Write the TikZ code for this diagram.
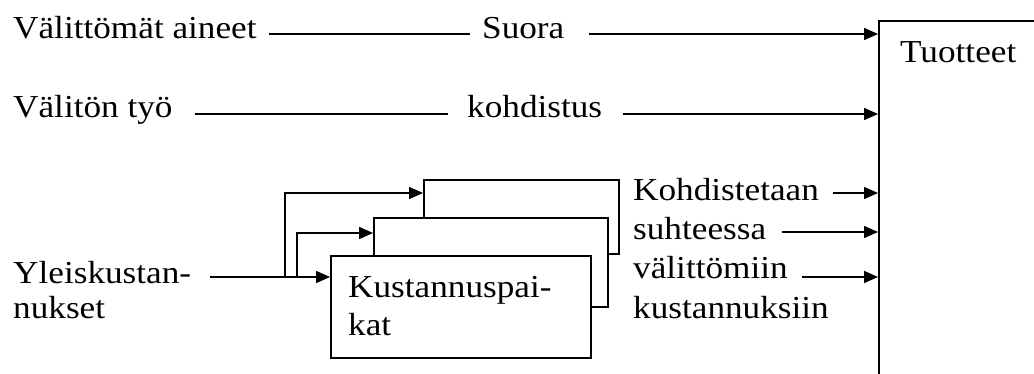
\documentclass[tikz,border=0pt]{standalone}
\usepackage{fontspec}
\setmainfont{Liberation Serif}[FakeStretch=1.10]
\usetikzlibrary{arrows.meta,calc}

\tikzset{
  lbl/.style={inner sep=0pt, anchor=base west, font=\fontsize{32}{38}\selectfont, align=left},
  conn/.style={line width=1.6pt},
  arr/.style={conn, -{Triangle[length=14pt,width=12pt]}},
  stack/.style={draw, line width=1.6pt, fill=white, anchor=north west, inner sep=0pt},
}

\begin{document}
\begin{tikzpicture}[x=1pt,y=-1pt]
  \useasboundingbox (0,0) rectangle (1034,374);

  % products box, running off the right and bottom edges
  \begin{scope}
    \clip (0,0) rectangle (1034,374);
    \node[stack, minimum width=200pt, minimum height=400pt] (tuot) at (878,20) {};
  \end{scope}
  \node[lbl] (tuottxt) at (900,63) {Tuotteet};

  % direct costs
  \node[lbl] (va) at (13,39) {Välittömät aineet};
  \node[lbl] (suora) at (482,39) {Suora};
  \draw[conn] ($(va.base east)+(12,-5)$) -- ($(suora.base west)+(-12,-5)$);
  \draw[arr] ($(suora.base east)+(24,-5)$) -- ($(suora.base east -| tuot.west)+(0,-5)$);

  \node[lbl] (vt) at (13,118) {Välitön työ};
  \node[lbl] (kohd) at (467,118) {kohdistus};
  \draw[conn] ($(vt.base east)+(22,-4)$) -- ($(kohd.base west)+(-19,-4)$);
  \draw[arr] ($(kohd.base east)+(21,-4)$) -- ($(kohd.base east -| tuot.west)+(0,-4)$);

  % cost centres, stacked
  \node[stack, minimum width=195pt, minimum height=74pt] (bk) at (423,179) {};
  \node[stack, minimum width=234pt, minimum height=89pt] (md) at (373,217) {};
  \node[stack, minimum width=260pt, minimum height=102pt] (fb) at (330,255) {};
  % multi-line labels are placed by the baseline of their last line
  \node[lbl, font=\fontsize{32}{38}\selectfont] (fbtxt) at (348,335) {Kustannuspai-\\kat};

  % overheads
  \node[lbl, font=\fontsize{32}{35}\selectfont] (yk) at (13,318) {Yleiskustan-\\nukset};
  \coordinate (ykend) at (210,277);
  \coordinate (split1) at (285,277);
  \coordinate (split2) at (297,277);
  \draw[arr] (ykend) -- (ykend -| fb.west);
  \draw[arr] (split1) |- ([yshift=-14pt]bk.north west);
  \draw[arr] (split2) |- ([yshift=-16pt]md.north west);

  % allocation in proportion to direct costs
  \node[lbl, font=\fontsize{32}{39.3}\selectfont] (alloc) at (633,318)
    {Kohdistetaan\\suhteessa\\välittömiin\\kustannuksiin};
  \coordinate (k1) at (833,193);
  \coordinate (k2) at (782,232);
  \coordinate (k3) at (802,277);
  \draw[arr] (k1) -- (k1 -| tuot.west);
  \draw[arr] (k2) -- (k2 -| tuot.west);
  \draw[arr] (k3) -- (k3 -| tuot.west);
\end{tikzpicture}
\end{document}
